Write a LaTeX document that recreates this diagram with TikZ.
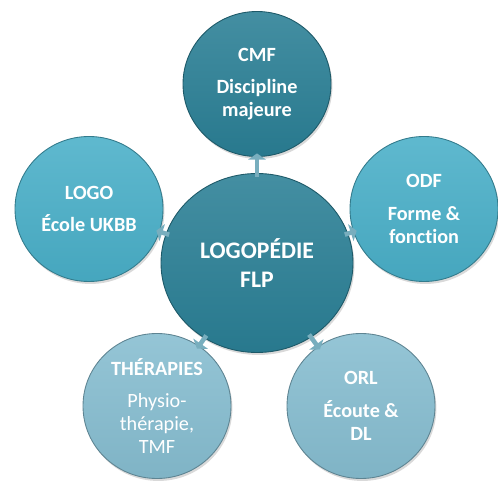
\documentclass[tikz,border=0pt]{standalone}
\usepackage{fontspec}
\setmainfont{Carlito}[Ligatures=NoCommon]
\usetikzlibrary{shapes.geometric,shadows,arrows.meta}
\definecolor{hubcol}{HTML}{2A7F95}
\definecolor{midcol}{HTML}{49AFC8}
\definecolor{lowcol}{HTML}{86BDD0}
\definecolor{linkcol}{HTML}{78AEBE}
\tikzset{
  bubble/.style={ellipse,draw=#1!70!black,line width=.5pt,
    top color=#1!88!white,bottom color=#1!95!black,
    drop shadow={opacity=.3,shadow xshift=.8pt,shadow yshift=-1.4pt},
    text=white,align=center,inner sep=0pt,
    font=\bfseries\fontsize{11.5}{13}\selectfont,
    minimum width=2.96cm,minimum height=2.9cm},
  link/.style={line width=2.6pt,draw=linkcol,
    -{Triangle[width=10pt,length=3.5pt]},shorten <=-2pt,shorten >=-2pt}
}
\begin{document}
\begin{tikzpicture}
\useasboundingbox (0,0) rectangle (9.96,9.62);
\node[bubble=hubcol,minimum width=3.84cm,minimum height=3.58cm,
  font=\bfseries\fontsize{13.5}{17}\selectfont] (hub) at (5.14,4.36) {LOGOPÉDIE\\FLP};
\node[bubble=hubcol] (cmf) at (5.14,7.94) {CMF\\[5.5pt]Discipline\\majeure};
\node[bubble=midcol] (logo) at (1.78,5.44) {LOGO\\[5.5pt]École UKBB};
\node[bubble=midcol] (odf) at (8.48,5.44) {ODF\\[5.5pt]Forme \&\\fonction};
\node[bubble=lowcol,font=\mdseries\fontsize{11.5}{13}\selectfont] (ther) at (3.14,1.5)
  {\textbf{THÉRAPIES}\\[5.5pt]Physio-\\thérapie,\\TMF};
\node[bubble=lowcol] (orl) at (7.22,1.5) {ORL\\[5.5pt]Écoute \&\\DL};

\foreach \n in {cmf,logo,odf,ther,orl}
  \draw[link] (hub) -- (\n);
\end{tikzpicture}
\end{document}
